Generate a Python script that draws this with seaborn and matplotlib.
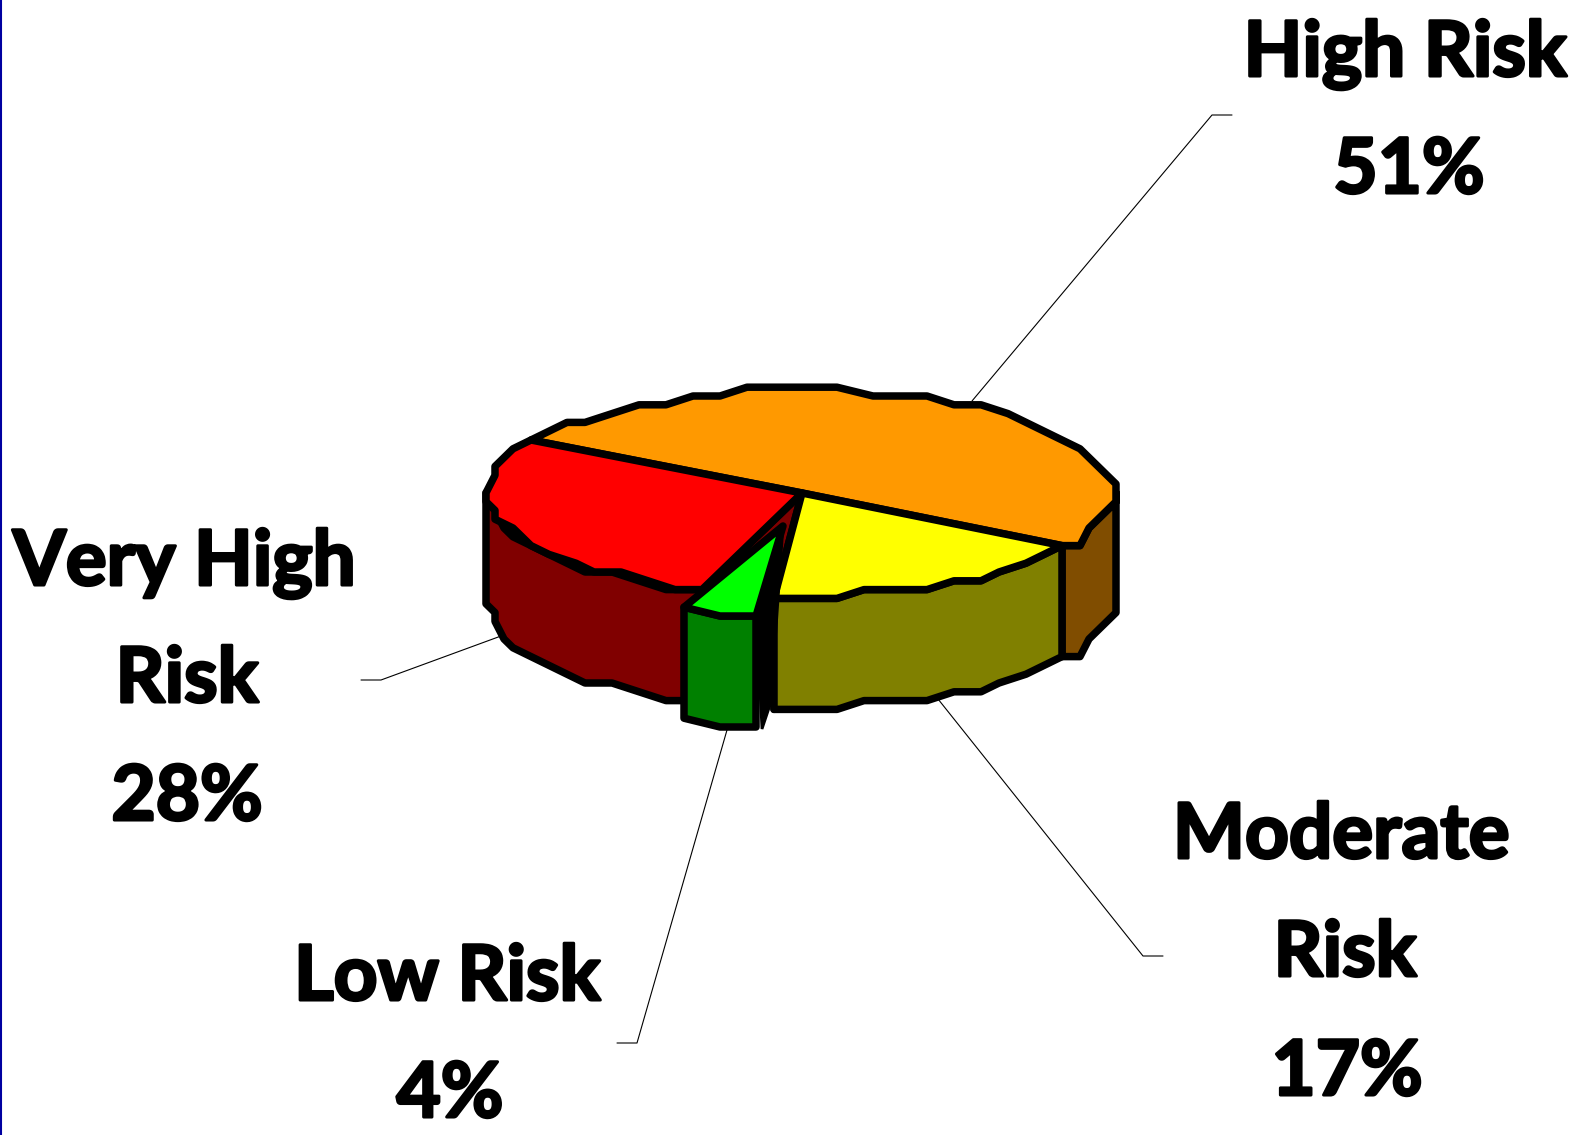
import numpy as np
import pandas as pd
import matplotlib
matplotlib.use('Agg')
import matplotlib.pyplot as plt
import matplotlib.patheffects as pe
import seaborn as sns

labels = ['High Risk', 'Moderate Risk', 'Low Risk', 'Very High Risk']
shares = [51, 17, 4, 28]
top_colors = ['#FF9900', '#FFFF00', '#00FF00', '#FF0000']
side_colors = ['#804D00', '#808000', '#008000', '#800000']

# pie layout, in pixels of the figure
CENTER = (802, 493)
RX, RY = 313, 103
DEPTH = 111
START = 150
LW = 5.4
STEP = 5.5
GRID_X, GRID_Y = 9, 8.8

sns.set_theme(style='white')
plt.rcParams['font.family'] = ['Lato', 'Liberation Sans']

df = pd.DataFrame({'label': labels, 'share': shares, 'top': top_colors, 'side': side_colors})
df['sweep'] = df['share'] / df['share'].sum() * 360
df['a0'] = START - df['sweep'].shift(fill_value=0).cumsum()
df['a1'] = df['a0'] - df['sweep']

fig = plt.figure(figsize=(15.72, 11.35), dpi=100)
ax = fig.add_axes([0, 0, 1, 1])
ax.set_xlim(0, 1572)
ax.set_ylim(1135, 0)
ax.axis('off')


def rim(a0, a1, center=CENTER, fx=1.0, fy=1.0):
    # coarse vertices snapped to a grid, the outline of the original is jagged
    steps = max(int(abs(a0 - a1) / STEP), 1)
    ang = np.radians(np.linspace(a0, a1, steps + 1))
    x = center[0] + RX * fx * np.cos(ang)
    y = center[1] - RY * fy * np.sin(ang)
    x = np.round(x / GRID_X) * GRID_X
    y = np.round(y / GRID_Y) * GRID_Y
    return np.column_stack([x, y])


def poly(pts, color, z):
    ax.fill(pts[:, 0], pts[:, 1], facecolor=color, edgecolor='black', lw=LW, joinstyle='round', zorder=z)


def side(pts, color, z):
    drop = pts + [0, DEPTH]
    poly(np.vstack([pts, drop[::-1]]), color, z)


def wedge_top(apex, pts, color, z):
    poly(np.vstack([[apex], pts]), color, z)


high, moderate, low, very_high = [df.iloc[i] for i in range(4)]

# sides, back to front
side(rim(0, high.a1), high.side, 1)

# cut faces in the gap left by the pulled out slice
red_edge = rim(very_high.a0, very_high.a0)[0]
yellow_edge = rim(moderate.a1, moderate.a1)[0]
poly(np.array([CENTER, red_edge, red_edge + [0, DEPTH], [CENTER[0], CENTER[1] + DEPTH]]), very_high.side, 2)
poly(np.array([CENTER, yellow_edge, yellow_edge + [0, DEPTH], [CENTER[0], CENTER[1] + DEPTH]]), moderate.side, 2)
side(rim(moderate.a0, moderate.a1), moderate.side, 3)
side(rim(very_high.a0, -180), very_high.side, 3)

# top faces
wedge_top(CENTER, rim(high.a0, high.a1), high.top, 4)
wedge_top(CENTER, rim(moderate.a0, moderate.a1), moderate.top, 4)
wedge_top(CENTER, rim(very_high.a0, very_high.a1), very_high.top, 4)

# low risk slice is pulled out
LOW_APEX = (783, 526)
low_rim = rim(low.a0, low.a1, LOW_APEX, 0.97, 0.86)
side(low_rim, low.side, 6)
wedge_top(LOW_APEX, low_rim, low.top, 7)
sliver = np.array([LOW_APEX, low_rim[0], low_rim[0] + [6, DEPTH + 2], low_rim[0] + [15, DEPTH - 25]])
ax.fill(sliver[:, 0], sliver[:, 1], color='black', lw=2, zorder=5)

# leader lines
leader_x = [[972, 1212, 1232], [501, 381, 361], [938, 1143, 1163], [727, 637, 617]]
leader_y = [[401, 115, 115], [636, 680, 680], [699, 956, 956], [730, 1043, 1043]]
for lx, ly in zip(leader_x, leader_y):
    ax.plot(lx, ly, color='black', lw=0.8, zorder=0)

# labels, one line at a time
text_lines = [
    ('High Risk', 1405, 76), ('51%', 1409, 193),
    ('Very High', 184, 585), ('Risk', 187, 702), ('28%', 187, 820),
    ('Moderate', 1341, 858), ('Risk', 1345, 976), ('17%', 1347, 1095),
    ('Low Risk', 447, 1000), ('4%', 450, 1117),
]
for txt, tx, ty in text_lines:
    t = ax.text(tx, ty, txt, ha='center', va='baseline', fontsize=55, fontweight='bold', color='black')
    # the original lettering is heavier than Lato Bold
    t.set_path_effects([pe.withStroke(linewidth=2.2, foreground='black')])

ax.axvline(1, color='#0000A0', lw=1.5, zorder=10)

fig.savefig('out.png', dpi=100, facecolor='white')
